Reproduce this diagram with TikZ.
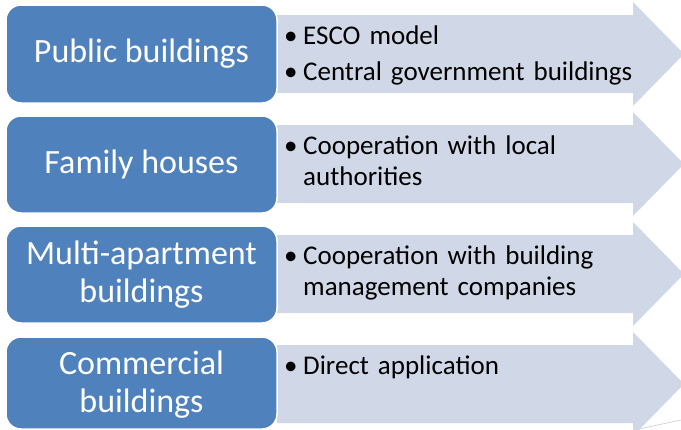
\documentclass[tikz,border=0pt]{standalone}
\usepackage{fontspec}
\setmainfont{Carlito}
\definecolor{boxblue}{RGB}{79,129,189}
\definecolor{arrowfill}{RGB}{208,216,232}
\begin{document}
\begin{tikzpicture}[x=1pt,y=-1pt,
  catbox/.style={fill=boxblue,draw=white,line width=1.5pt,rounded corners=15pt},
  cattext/.style={text=white,align=center,font=\fontsize{34}{38}\selectfont,inner sep=0pt},
  bulletmark/.style={anchor=base west,inner sep=0pt,font=\fontsize{27}{31}\selectfont},
  itemtext/.style={anchor=base west,inner sep=0pt,align=left,text width=360pt,font=\fontsize{27}{31}\selectfont},
  arrowshape/.style={fill=arrowfill,draw=none}]
\useasboundingbox (0,0) rectangle (681,429);
% arrows
\foreach \t [count=\i] in {15,125,235,345}{
  \fill[arrowfill] (277,\t) -- (633,\t) -- (633,\t-13) -- (684,\t+39) -- (633,\t+91) -- (633,\t+78) -- (277,\t+78) -- cycle;
}
\draw[gray!35,line width=0.7pt] (639,429) -- (681,420);
% category boxes
\draw[catbox] (6,5) rectangle (277,103);
\node[cattext] (c1) at (141.5,54) {Public buildings};
\draw[catbox] (6,116) rectangle (277,213);
\node[cattext] (c2) at (141.5,164.5) {Family houses};
\draw[catbox] (6,226) rectangle (277,323);
\node[cattext] (c3) at (141.5,274.5) {Multi-apartment\\buildings};
\draw[catbox] (6,337) rectangle (277,429);
\node[cattext] (c4) at (141.5,385) {Commercial\\buildings};
% bullets
\node[bulletmark] (b1a) at (284,44) {•};
\node[itemtext] (t1a) at (303,44) {ESCO model};
\node[bulletmark] (b1b) at (284,80) {•};
\node[itemtext] (t1b) at (303,80) {Central government buildings};
\node[bulletmark] (b2) at (284,154) {•};
\node[itemtext] (t2) at (303,154) {Cooperation with local\\authorities};
\node[bulletmark] (b3) at (284,264) {•};
\node[itemtext] (t3) at (303,264) {Cooperation with building\\management companies};
\node[bulletmark] (b4) at (284,374) {•};
\node[itemtext] (t4) at (303,374) {Direct application};
\end{tikzpicture}
\end{document}
